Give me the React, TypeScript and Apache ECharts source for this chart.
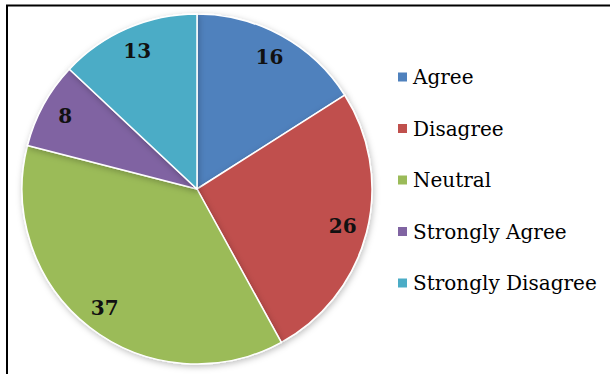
import React, { useEffect, useRef } from "react";
import * as echarts from "echarts";

const categories = ["Agree", "Disagree", "Neutral", "Strongly Agree", "Strongly Disagree"];
const values = [16, 26, 37, 8, 13];
const colors = ["#4F81BD", "#C0504D", "#9BBB59", "#8064A2", "#4BACC6"];

const SERIF = "DejaVu Serif";

export default function App() {
  const ref = useRef<HTMLDivElement>(null);
  useEffect(() => {
    const chart = echarts.init(ref.current!, null, { renderer: "svg" });
    const data = categories.map((name, i) => ({ name, value: values[i] }));
    chart.setOption({
      animation: false,
      backgroundColor: "#ffffff",
      color: colors,
      graphic: [
        {
          type: "polyline",
          shape: { points: [[7, 380], [7, 5.5], [615, 5.5]] },
          style: { stroke: "#000", lineWidth: 2, fill: null },
          z: 10,
        },
      ],
      legend: {
        orient: "vertical",
        left: 391,
        top: 59,
        itemWidth: 11,
        itemHeight: 11,
        itemGap: 25.5,
        icon: "rect",
        selectedMode: false,
        textStyle: {
          fontFamily: SERIF,
          fontSize: 20,
          lineHeight: 26,
          color: "#000",
        },
        data: categories,
      },
      series: [
        {
          type: "pie",
          center: [197, 189],
          radius: [0, 175],
          startAngle: 90,
          clockwise: true,
          silent: true,
          itemStyle: { borderColor: "#ffffff", borderWidth: 1.5, shadowColor: "rgba(0,0,0,0.25)", shadowBlur: 6, shadowOffsetX: 1, shadowOffsetY: 2 },
          label: { show: false },
          labelLine: { show: false },
          data,
        },
        {
          type: "pie",
          center: [197, 189],
          radius: [120, 175],
          startAngle: 90,
          clockwise: true,
          silent: true,
          legendHoverLink: false,
          itemStyle: { color: "transparent", borderWidth: 0 },
          label: {
            show: true,
            position: "inside",
            formatter: "{c}",
            fontFamily: SERIF,
            fontWeight: "bold",
            fontSize: 20,
            color: "#111",
          },
          labelLine: { show: false },
          data: data.map((d) => ({ ...d })),
        },
      ],
    });
    return () => chart.dispose();
  }, []);
  return <div ref={ref} style={{ position: "fixed", left: 0, top: 0, width: 610, height: 374 }} />;
}
